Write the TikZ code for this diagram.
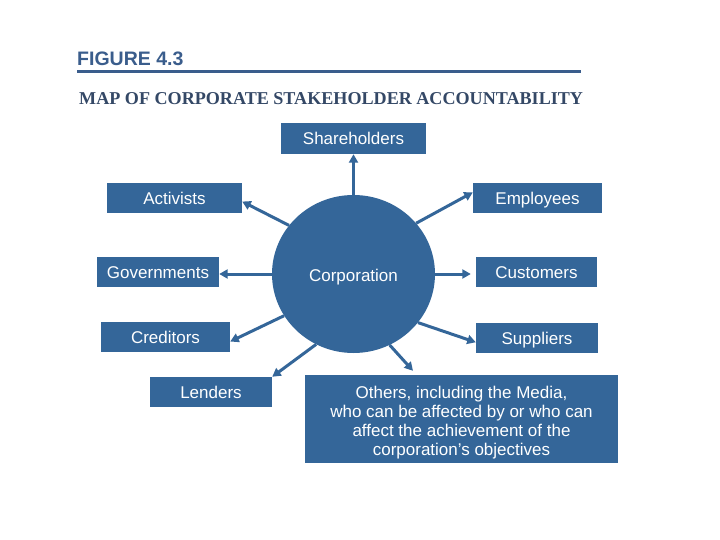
\documentclass[tikz,border=0pt]{standalone}
\usepackage{fontspec}
\setmainfont{Liberation Sans}
\newfontfamily\serifb{Liberation Serif}
\usetikzlibrary{arrows.meta,shapes.geometric,calc}
\definecolor{boxblue}{RGB}{52,102,153}
\definecolor{titleblue}{RGB}{58,93,140}
\definecolor{subblue}{RGB}{52,72,102}
\tikzset{
  sbox/.style={fill=boxblue, text=white, inner sep=0pt, anchor=center,
    font=\fontsize{17}{18.6}\selectfont, text height=12.2pt, text depth=0pt},
  arr/.style={draw=boxblue, line width=3pt, -{Triangle[length=8.5pt,width=9pt]}},
}
\begin{document}
\begin{tikzpicture}[x=1pt,y=-1pt]
\useasboundingbox[fill=white] (0,0) rectangle (720,540);
% titles
\node[anchor=base west, inner sep=0pt, text=titleblue, font=\fontsize{19.5}{22}\selectfont\bfseries] (fig) at (77,65.5) {FIGURE 4.3};
\coordinate (rulel) at (77,72);
\coordinate (ruler) at (581,72);
\draw[titleblue, line width=3pt] (rulel) -- (ruler);
\node[anchor=base west, inner sep=0pt, text=subblue, font=\serifb\fontsize{18.1}{20}\selectfont\bfseries] (sub) at (79,105) {MAP OF CORPORATE STAKEHOLDER ACCOUNTABILITY};
% center
\node[ellipse, fill=boxblue, minimum width=163pt, minimum height=158pt, inner sep=0pt] (corp) at (353.5,274) {};
\node[text=white, inner sep=0pt, font=\fontsize{17}{18.6}\selectfont, text height=12.2pt, text depth=0pt] (corptxt) at (353.5,275.5) {Corporation};
% boxes
\node[sbox, minimum width=145pt, minimum height=31pt] (sh) at (353.5,138.5) {Shareholders};
\node[sbox, minimum width=135pt, minimum height=30pt] (act) at (174.5,198) {Activists};
\node[sbox, minimum width=129pt, minimum height=30pt] (emp) at (537.5,198) {Employees};
\node[sbox, minimum width=122pt, minimum height=30pt] (gov) at (158,272) {Governments};
\node[sbox, minimum width=121pt, minimum height=30pt] (cus) at (536.5,272) {Customers};
\node[sbox, minimum width=129pt, minimum height=30pt] (cred) at (165.5,337) {Creditors};
\node[sbox, minimum width=122pt, minimum height=30pt] (sup) at (537,338) {Suppliers};
\node[sbox, minimum width=122pt, minimum height=30pt] (len) at (211,392) {Lenders};
\node[fill=boxblue, inner sep=0pt, minimum width=313pt, minimum height=88pt] (oth) at (461.5,419) {};
\node[text=white, inner sep=0pt, align=center, font=\fontsize{17}{19.2}\selectfont] (othtxt) at (461.5,422.5) {Others, including the Media,\\who can be affected by or who can\\affect the achievement of the\\corporation’s objectives};
% arrows
\draw[arr] (corp.90) -- (sh.south);
\draw[arr] (corp.143.5) -- (act.-3.4);
\draw[arr] (corp.39.8) -- (emp.175.7);
\draw[arr] (corp.180) -- (corp.180 -| gov.east);
\draw[arr] (corp.0) -- ([xshift=-5pt]corp.0 -| cus.west);
\draw[arr] (corp.211.4) -- (cred.-4.4);
\draw[arr] (corp.-37.4) -- (sup.184.6);
\draw[arr] (corp.242.2) -- (len.north east);
\draw[arr] (corp.-63.7) -- ([shift={(-48.5,-4)}]oth.north);
\end{tikzpicture}
\end{document}
